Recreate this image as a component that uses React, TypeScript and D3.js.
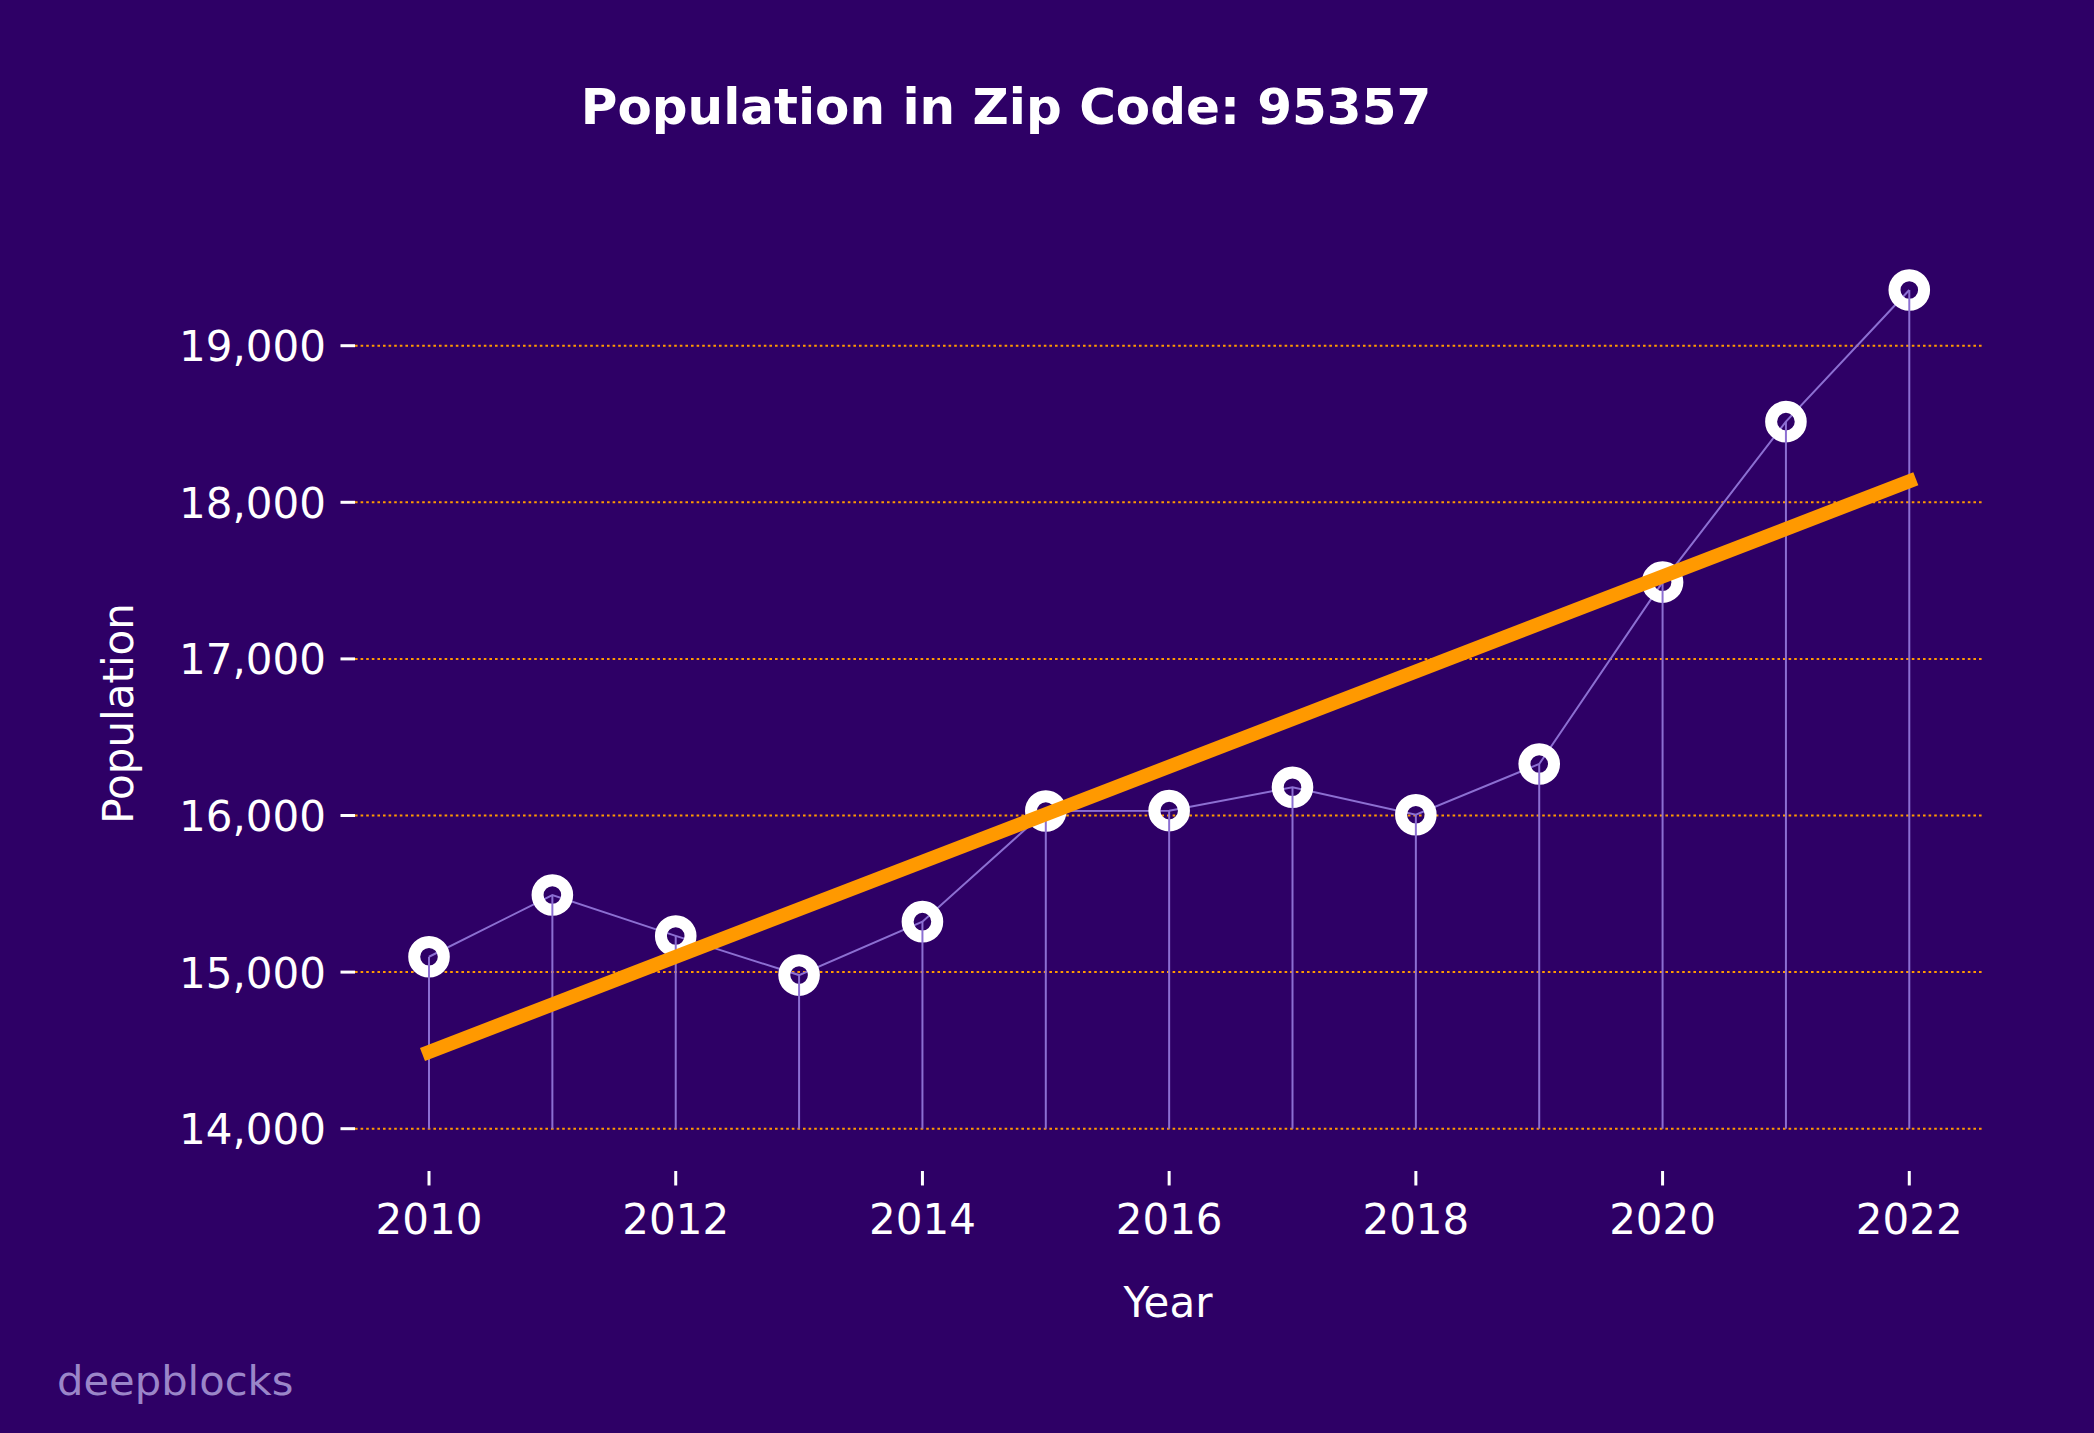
import React from "react";
import * as d3 from "d3";

const years = [2010, 2011, 2012, 2013, 2014, 2015, 2016, 2017, 2018, 2019, 2020, 2021, 2022];
const population = [15098, 15492, 15231, 14981, 15322, 16029, 16031, 16180, 16005, 16329, 17490, 18515, 19356];
const trendYears = [2010, 2022];
const trendValues = [14490, 18134];
const yTicks = [14000, 15000, 16000, 17000, 18000, 19000];
const xTicks = [2010, 2012, 2014, 2016, 2018, 2020, 2022];
const stemBase = 14000;

const W = 2094;
const H = 1433;
const BG = "#2E0066";
const ORANGE = "#FF9900";
const LAV = "#8C6FD2";
const FONT = "'DejaVu Sans', Verdana, sans-serif";

export default function App() {
  const x = d3.scaleLinear().domain([2009.4, 2022.6]).range([355, 1983.3]);
  const y = d3.scaleLinear().domain([14000, 19000]).range([1128.7, 345.7]);
  const plotLeft = 355;
  const plotRight = 1983.3;
  const plotBottom = y(13730);
  const plotTop = y(19625);

  const pts = years.map((yr, i) => [x(yr), y(population[i])] as [number, number]);
  const line = d3.line<[number, number]>()(pts) || "";
  const trend = d3.line<[number, number]>()(
    trendYears.map((yr, i) => [x(yr), y(trendValues[i])] as [number, number])
  ) || "";
  const fmt = d3.format(",");

  return (
    <svg
      width={W}
      height={H}
      style={{ position: "absolute", left: 0, top: 0, display: "block" }}
      fontFamily={FONT}
    >
      <rect x={0} y={0} width={W} height={H} fill={BG} />
      {/* title */}
      <text x={1006} y={124} fill="#fff" fontSize={50} fontWeight="bold" textAnchor="middle">
        Population in Zip Code: 95357
      </text>
      {/* grid */}
      {yTicks.map((t) => (
        <line
          key={"g" + t}
          x1={plotLeft}
          x2={plotRight}
          y1={y(t)}
          y2={y(t)}
          stroke={ORANGE}
          strokeWidth={2}
          strokeDasharray="2.6 3"
        />
      ))}
      {/* y ticks */}
      {yTicks.map((t) => (
        <g key={"yt" + t}>
          <line x1={plotLeft - 14.5} x2={plotLeft} y1={y(t)} y2={y(t)} stroke="#fff" strokeWidth={3} />
          <text x={plotLeft - 29} y={y(t) + 15.5} fill="#fff" fontSize={42} textAnchor="end">
            {fmt(t)}
          </text>
        </g>
      ))}
      {/* x ticks */}
      {xTicks.map((t) => (
        <g key={"xt" + t}>
          <line x1={x(t)} x2={x(t)} y1={plotBottom} y2={plotBottom + 14.5} stroke="#fff" strokeWidth={3} />
          <text x={x(t)} y={1234} fill="#fff" fontSize={42} textAnchor="middle">
            {t}
          </text>
        </g>
      ))}
      {/* axis labels */}
      <text x={1168} y={1317} fill="#fff" fontSize={42} textAnchor="middle">
        Year
      </text>
      <text
        transform={`translate(133,${(plotTop + plotBottom) / 2 + 4}) rotate(-90)`}
        fill="#fff"
        fontSize={42}
        textAnchor="middle"
      >
        Population
      </text>
      {/* connecting line */}
      <path d={line} fill="none" stroke={LAV} strokeWidth={2} />
      {/* markers */}
      {pts.map((p, i) => (
        <circle key={"m" + i} cx={p[0]} cy={p[1]} r={14.8} fill="none" stroke="#fff" strokeWidth={12} />
      ))}
      {/* stems */}
      {pts.map((p, i) => (
        <line key={"s" + i} x1={p[0]} x2={p[0]} y1={p[1]} y2={y(stemBase)} stroke={LAV} strokeWidth={2} />
      ))}
      {/* trend */}
      <path d={trend} fill="none" stroke={ORANGE} strokeWidth={14} strokeLinecap="square" />
      {/* watermark */}
      <text x={57} y={1395} fill="#9B86C9" fontSize={41.67}>
        deepblocks
      </text>
    </svg>
  );
}
